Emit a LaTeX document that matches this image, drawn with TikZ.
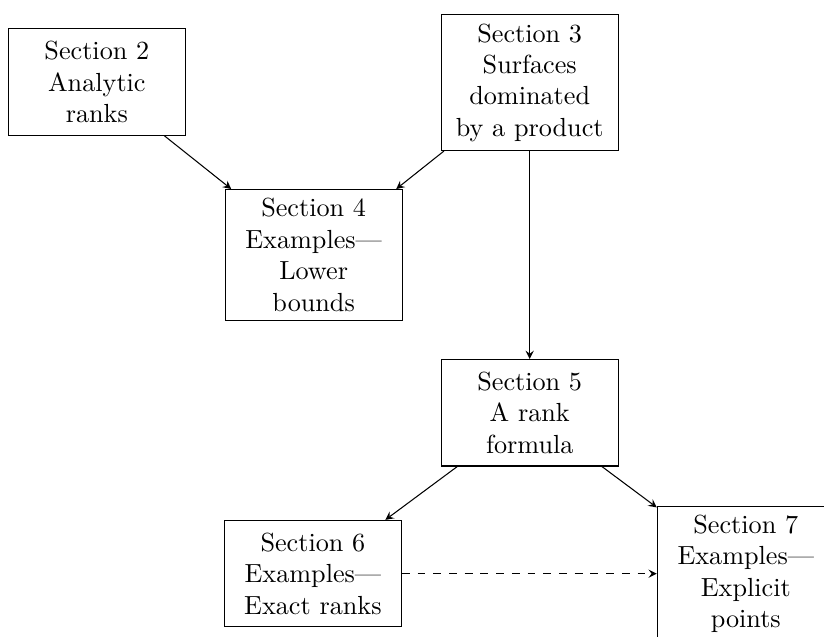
\documentclass[tikz,border=0pt]{standalone}
\usepackage{amsmath}
\usepackage{tikz}

\begin{document}
\begin{tikzpicture}[x=1cm, y=1cm, >=stealth,
    sec/.style={draw, text width=2.14cm, minimum height=1.43cm, align=center}]
    \useasboundingbox (0,0) rectangle (11.06,-8.55);
    \node[sec] (s2) at (1.30,-1.10) {Section 2\\ Analytic\\ ranks};
    \node[sec] (s3) at (7.11,-1.11) {Section 3\\ Surfaces\\ dominated\\ by a product};
    \node[sec] (s4) at (4.21,-3.42) {Section 4\\ Examples---\\ Lower\\ bounds};
    \node[sec] (s5) at (7.11,-5.54) {Section 5\\ A rank\\ formula};
    \node[sec] (s6) at (4.20,-7.70) {Section 6\\ Examples---\\ Exact ranks};
    \node[sec] (s7) at (10.01,-7.70) {Section 7\\ Examples---\\ Explicit\\ points};
    \draw[->] (s2) -- (s4);
    \draw[->] (s3) -- (s4);
    \draw[->] (s3) -- (s5);
    \draw[->] (s5) -- (s6);
    \draw[->] (s5) -- (s7);
    \draw[->, dashed] (s6) -- (s7);
  \end{tikzpicture}
\end{document}
